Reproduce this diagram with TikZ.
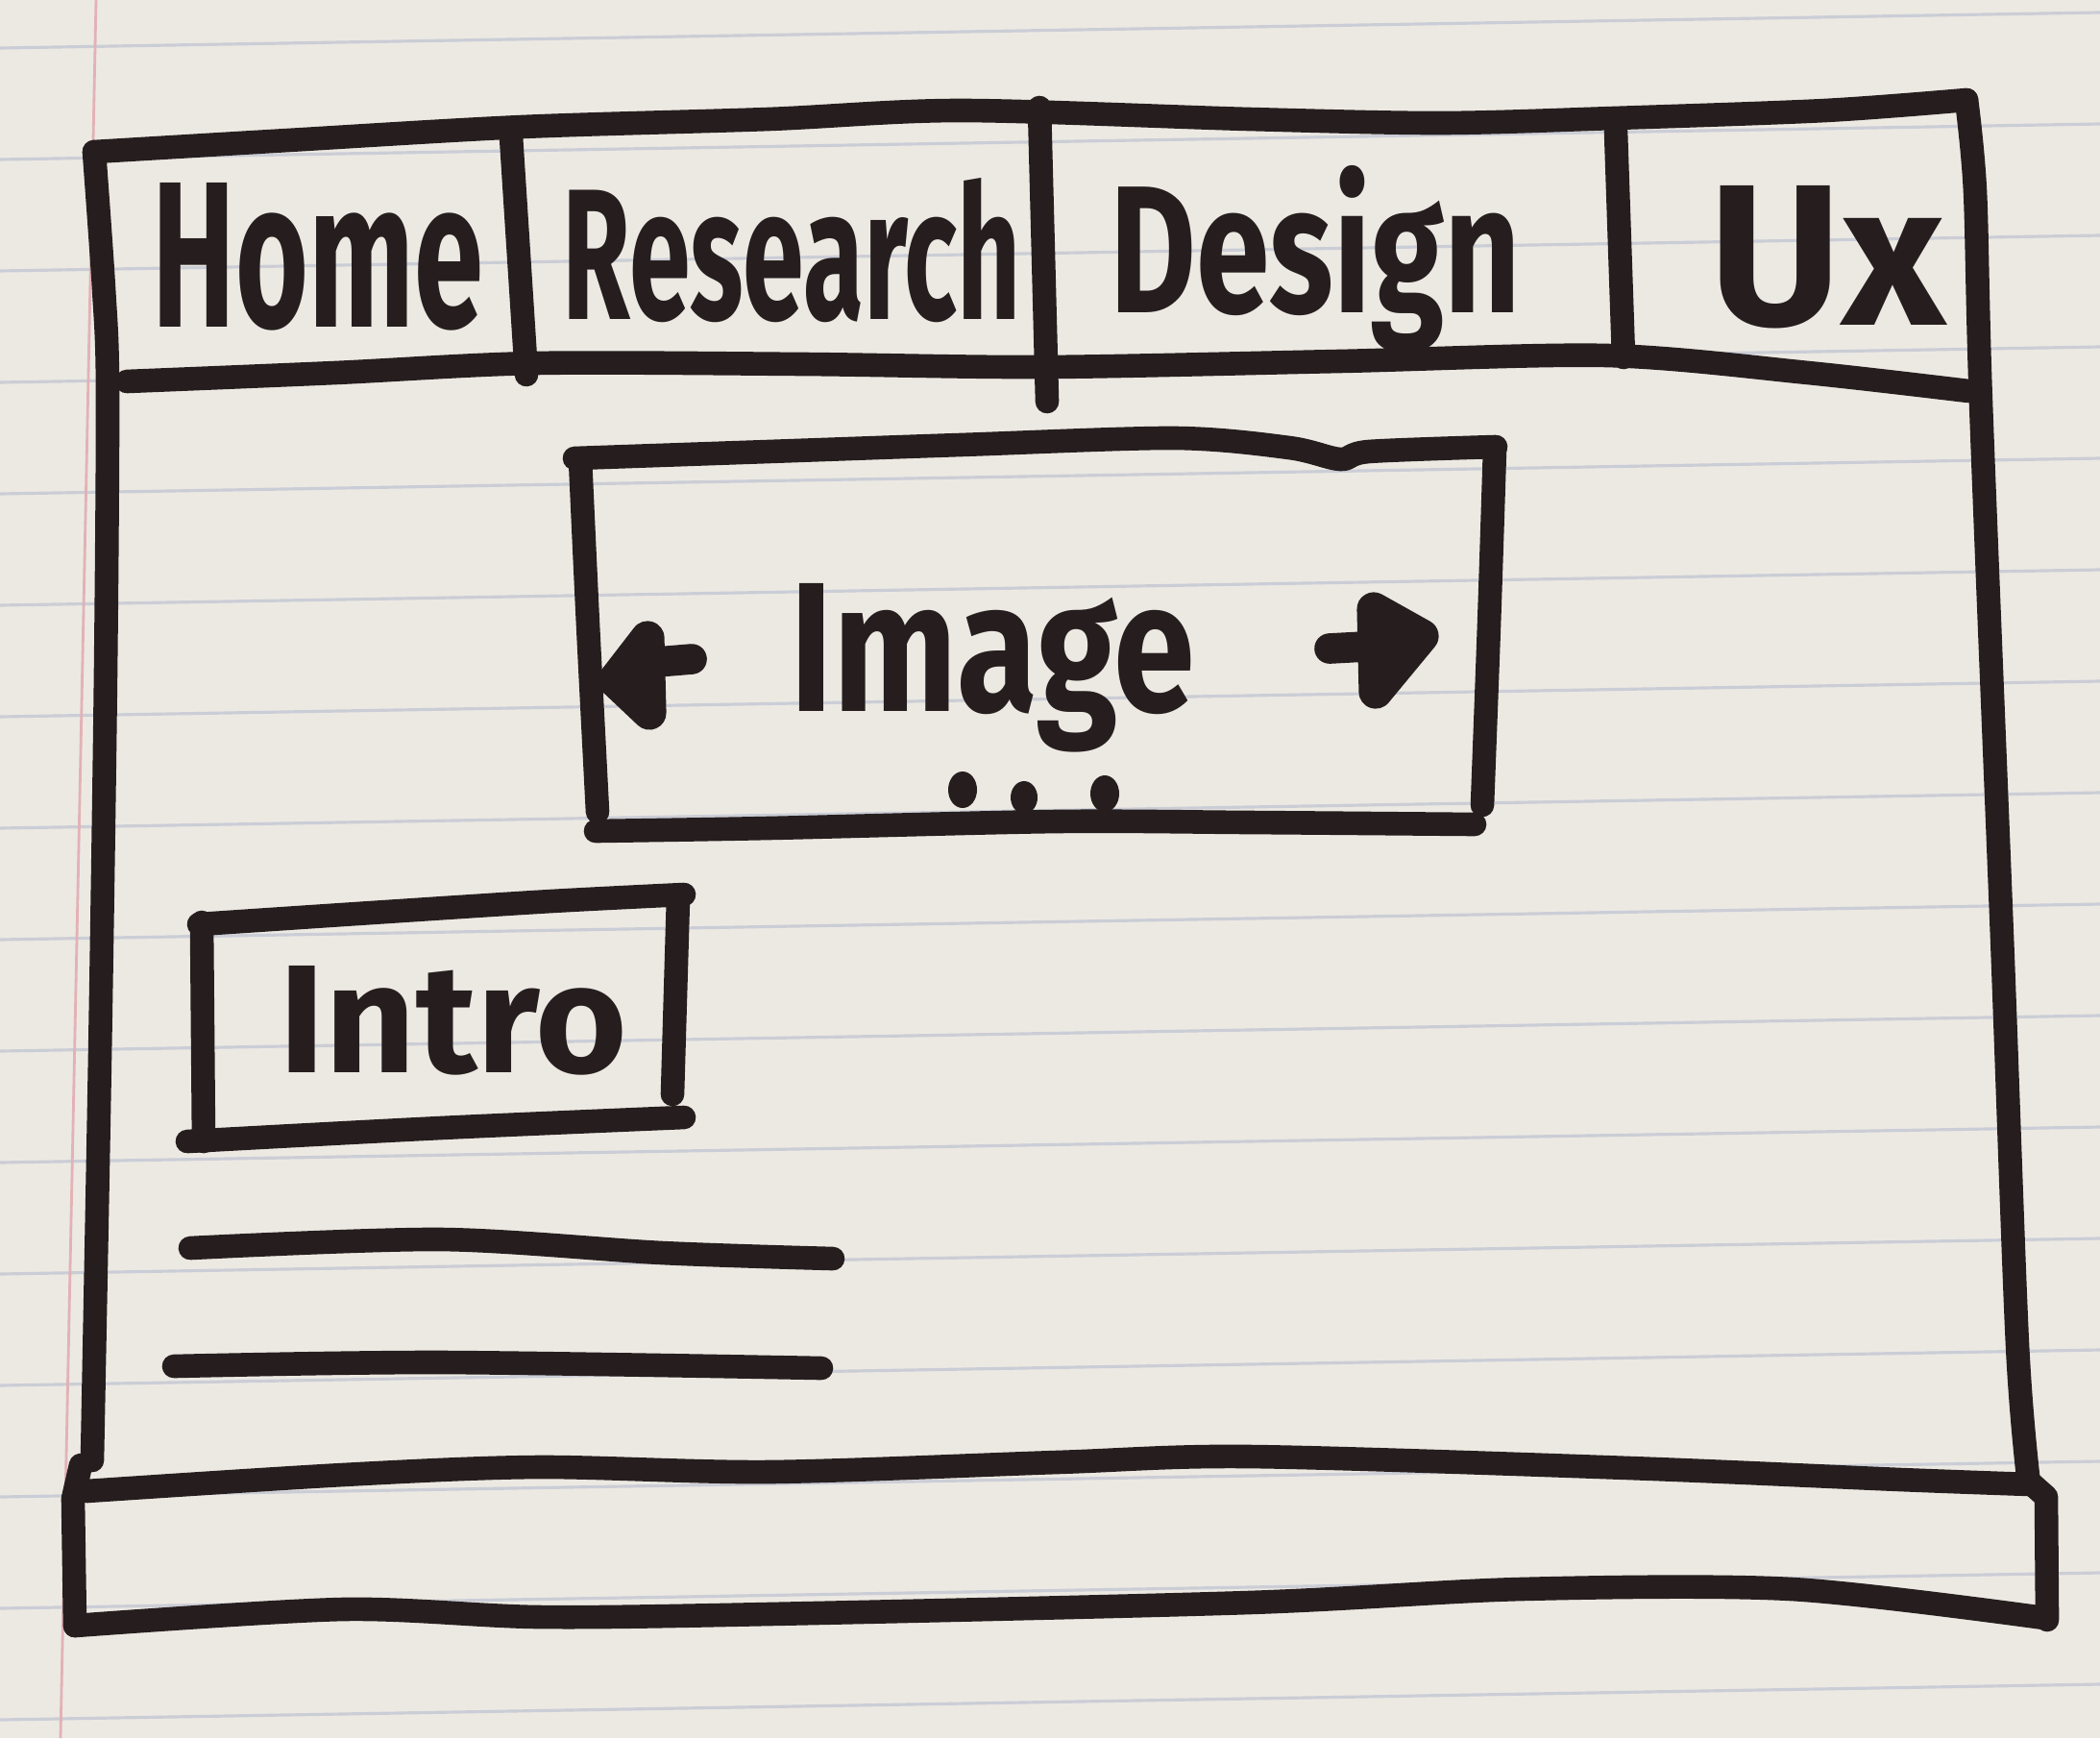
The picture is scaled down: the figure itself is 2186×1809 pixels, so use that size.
\documentclass[tikz,border=0pt]{standalone}
\usepackage{fontspec}
\usepackage{graphicx}
\newfontfamily\hand{Fira Sans}

\definecolor{paper}{RGB}{236,233,227}
\definecolor{ink}{RGB}{38,30,30}
\definecolor{rulecol}{RGB}{203,205,214}
\definecolor{margincol}{RGB}{226,178,182}

\tikzset{
  pen/.style={draw=ink, line width=7pt, line cap=round, line join=round},
  blob/.style={fill=ink, draw=ink, line width=10pt, line join=round},
  ruling/.style={draw=rulecol, line width=0.9pt},
  word/.style={anchor=base west, inner sep=0pt, text=ink},
}

% a handwritten word, stretched to a given width and letter height
\newcommand{\handword}[3]{\resizebox{#1}{#2}{\hand\bfseries #3}}

\begin{document}
\begin{tikzpicture}[x=0.01cm, y=-0.01cm]
  \useasboundingbox (0,0) rectangle (2186,1809);
  \fill[paper] (0,0) rectangle (2186,1809);

  % ruled notebook paper
  \foreach \k in {0,...,15} {
    \pgfmathsetmacro{\ya}{50+116*\k}
    \pgfmathsetmacro{\yb}{50+116*\k-37}
    \draw[ruling] (0,\ya) -- (2186,\yb);
  }
  \draw[margincol, line width=0.8pt] (100,0) -- (63,1809);

  % outer browser frame
  \draw[pen] plot[smooth] coordinates {(98,158) (300,146) (544,132) (800,124) (1000,115) (1300,124) (1500,128) (1680,123) (1900,115) (2047,104)};
  \draw[pen] plot[smooth] coordinates {(98,158) (108,300) (112,404) (110,700) (104,1100) (96,1520)};
  \draw[pen] (84,1525) -- (76,1560) -- (78,1692);
  \draw[pen] plot[smooth] coordinates {(2047,104) (2056,200) (2062,420) (2084,976) (2100,1400) (2112,1545)};
  \draw[pen] (2112,1542) -- (2130,1558) -- (2131,1686);

  % navigation bar
  \draw[pen] plot[smooth] coordinates {(132,397) (349,388) (558,378) (836,379) (1087,382) (1394,376) (1673,370) (1882,388) (2049,407)};
  \draw[pen] (532,142) -- (548,390);
  \draw[pen] (1082,112) -- (1090,418);
  \draw[pen] (1682,137) -- (1690,372);

  \node[word] (home)     at (158,340) {\handword{3.44cm}{1.50cm}{Home}};
  \node[word] (research) at (585,332) {\handword{4.77cm}{1.47cm}{Research}};
  \node[word] (design)   at (1155,325) {\handword{4.27cm}{1.53cm}{Design}};
  \node[word] (ux)       at (1779,338) {\handword{2.45cm}{1.45cm}{Ux}};

  % image carousel
  \draw[pen] plot[smooth] coordinates {(598,477) (800,470) (1000,463) (1223,456) (1342,466) (1395,478) (1425,470) (1557,465)};
  \draw[pen] plot[smooth] coordinates {(604,478) (612,650) (622,845)};
  \draw[pen] plot[smooth] coordinates {(1556,467) (1550,650) (1543,838)};
  \draw[pen] plot[smooth] coordinates {(620,865) (800,862) (1100,855) (1300,856) (1535,858)};

  \node[word] (image) at (822,740) {\handword{4.21cm}{1.33cm}{Image}};

  % carousel arrows
  \path[blob] (640,708) -- (674,664) -- (676,742) -- cycle;
  \draw[pen, line width=9pt] (672,690) -- (720,686);
  \draw[pen, line width=9pt] (1384,675) -- (1440,672);
  \path[blob] (1430,634) -- (1480,662) -- (1432,720) -- cycle;

  % slide indicator dots
  \fill[ink] (1002,822) ellipse [x radius=15, y radius=19];
  \fill[ink] (1066,830) ellipse [x radius=14, y radius=17];
  \fill[ink] (1150,826) ellipse [x radius=15, y radius=19];

  % intro heading box
  \draw[pen] plot[smooth] coordinates {(207,962) (402,949) (574,938) (712,931)};
  \draw[pen] (210,960) -- (212,1188);
  \draw[pen] (706,934) -- (700,1139);
  \draw[pen] plot[smooth] coordinates {(195,1188) (459,1174) (712,1163)};

  \node[word] (intro) at (290,1116) {\handword{3.62cm}{1.11cm}{Intro}};

  % body text lines
  \draw[pen] plot[smooth] coordinates {(198,1299) (459,1290) (689,1304) (867,1310)};
  \draw[pen] plot[smooth] coordinates {(181,1422) (459,1418) (855,1424)};

  % footer
  \draw[pen] plot[smooth] coordinates {(90,1552) (357,1535) (560,1527) (800,1532) (1100,1522) (1300,1516) (1696,1528) (1978,1540) (2114,1545)};
  \draw[pen] plot[smooth] coordinates {(78,1692) (357,1675) (561,1683) (800,1680) (1300,1668) (1583,1654) (1865,1654) (2128,1684)};
\end{tikzpicture}
\end{document}
